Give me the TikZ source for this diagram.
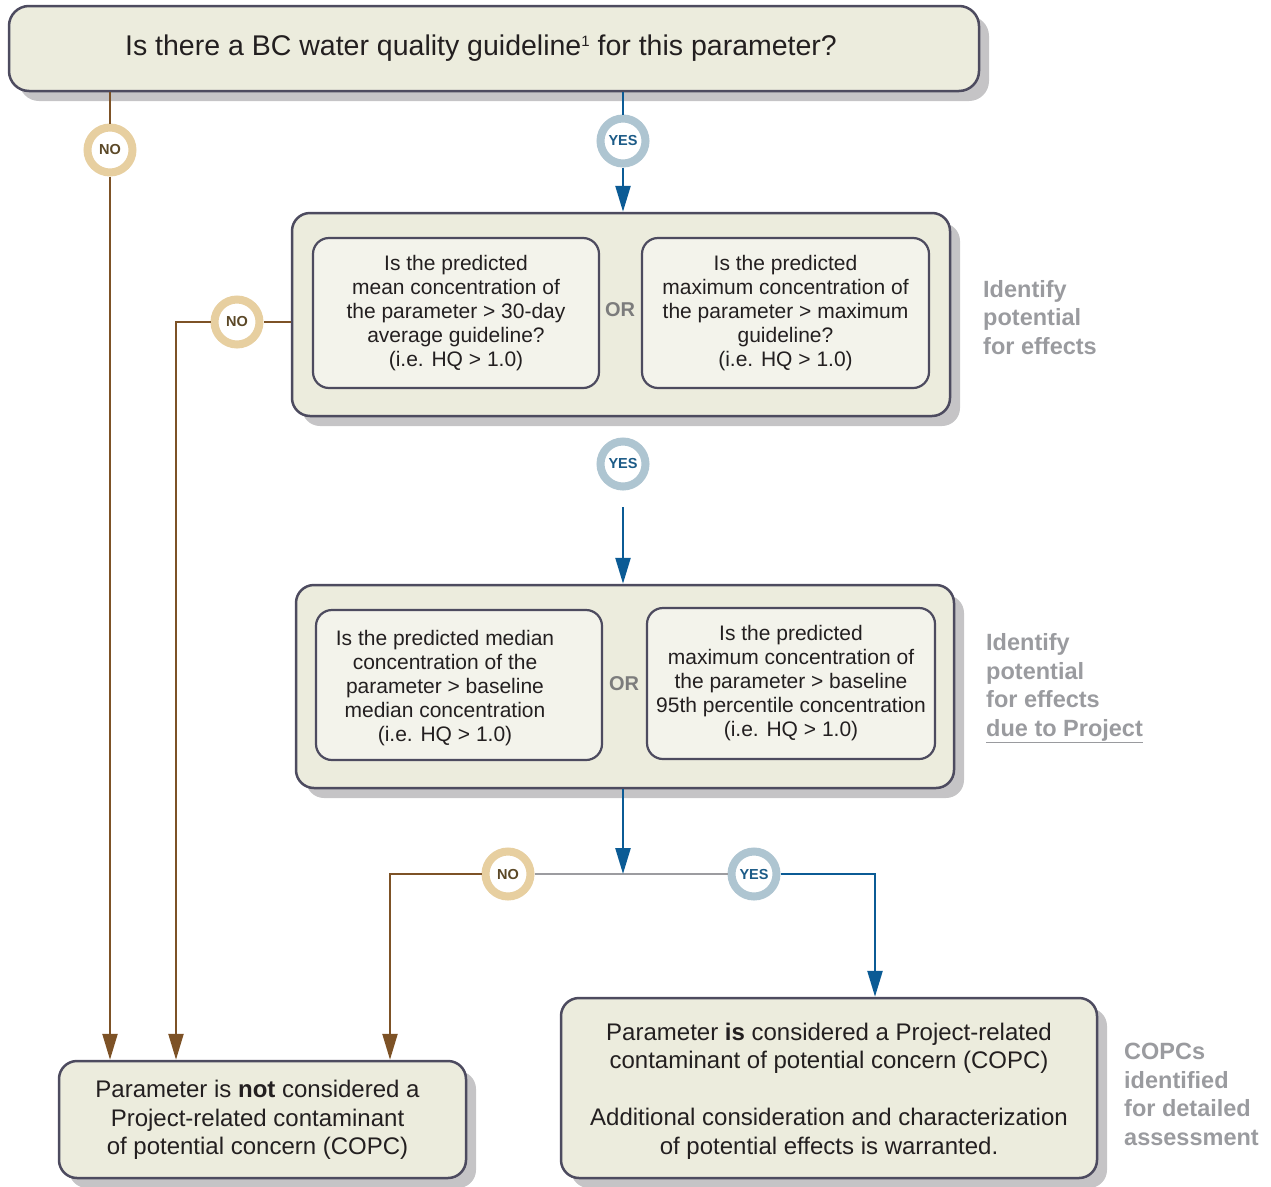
\documentclass[tikz,border=0pt]{standalone}
\usepackage{fontspec}
\setmainfont{Liberation Sans}
\usetikzlibrary{arrows.meta,shadows,calc}
\definecolor{boxfill}{HTML}{ECECDD}
\definecolor{innerfill}{HTML}{F3F3EB}
\definecolor{bordc}{HTML}{4D4B5F}
\definecolor{shadc}{HTML}{C5C4C6}
\definecolor{txtc}{HTML}{231F20}
\definecolor{notan}{HTML}{E7CFA0}
\definecolor{notext}{HTML}{5B4827}
\definecolor{yesring}{HTML}{AEC5D1}
\definecolor{yestext}{HTML}{1C5B87}
\definecolor{brownc}{HTML}{7D5226}
\definecolor{bluec}{HTML}{0B5B95}
\definecolor{greyc}{HTML}{9C9CA0}
\definecolor{labc}{HTML}{9A9B9F}
\definecolor{orc}{HTML}{7C7C7C}
\newcommand\myfs[2]{\fontsize{#1}{#2}\selectfont}
\begin{document}
\begin{tikzpicture}[x=1pt,y=-1pt,
  bigbox/.style={draw=bordc, line width=2.5pt, fill=boxfill, rounded corners=18pt, inner sep=0pt, align=center, text=txtc,
    general shadow={shadow xshift=10pt, shadow yshift=-10pt, fill=shadc, draw=none}},
  innerbox/.style={draw=bordc, line width=2.2pt, fill=innerfill, rounded corners=16pt, inner sep=0pt, align=center, text=txtc, font=\myfs{21}{24}},
  boxtext/.style={inner sep=0pt, align=center, text=txtc},
  nocirc/.style={circle, draw=notan, line width=8pt, fill=white, minimum size=45pt, inner sep=0pt, text=notext, font=\bfseries\myfs{14.5}{15}},
  yescirc/.style={circle, draw=yesring, line width=8pt, fill=white, minimum size=45pt, inner sep=0pt, text=yestext, font=\bfseries\myfs{14.5}{15}},
  brownln/.style={draw=brownc, line width=2.3pt},
  blueln/.style={draw=bluec, line width=2.5pt},
  greyln/.style={draw=greyc, line width=2.5pt},
  arrowend/.style={-{Triangle[length=26pt,width=15pt]}},
  sidelabel/.style={text=labc, font=\bfseries\myfs{23.5}{28.5}, align=left, anchor=west, inner sep=0pt},
  orlabel/.style={text=orc, font=\bfseries\myfs{20}{24}, inner sep=0pt}
]
\useasboundingbox (0,0) rectangle (1271,1186);

% main boxes
\node[bigbox, minimum width=970pt, minimum height=85pt, rounded corners=20pt, font=\myfs{28.5}{32}] (top) at (494,48.5)
  {Is there a BC water quality guideline\raisebox{9.5pt}{\myfs{15}{15}1} for this parameter?\hspace*{26pt}};

\node[bigbox, minimum width=658pt, minimum height=203pt] (box2) at (621,314.5) {};
\node[innerbox, minimum width=286pt, minimum height=150pt] (q2a) at (456,313)
  {Is the predicted\\mean concentration of\\the parameter > 30-day\\average guideline?\\(i.e. HQ > 1.0)};
\node[innerbox, minimum width=287pt, minimum height=150pt] (q2b) at (785.5,313)
  {Is the predicted\\maximum concentration of\\the parameter > maximum\\guideline?\\(i.e. HQ > 1.0)};
\node[orlabel] (or2) at (620,310) {OR};

\node[bigbox, minimum width=658pt, minimum height=203pt] (box3) at (625,686.5) {};
\node[innerbox, minimum width=286pt, minimum height=150pt] (q3a) at (459,685) {};
\node[boxtext, font=\myfs{21}{24}] (q3atext) at (445,688)
  {Is the predicted median\\concentration of the\\parameter > baseline\\median concentration\\(i.e. HQ > 1.0)};
\node[innerbox, minimum width=288pt, minimum height=151pt] (q3b) at (791,683.5)
  {Is the predicted\\maximum concentration of\\the parameter > baseline\\95th percentile concentration\\(i.e. HQ > 1.0)};
\node[orlabel] (or3) at (624,684) {OR};

\node[bigbox, minimum width=407pt, minimum height=117pt] (botL) at (262.5,1119.5) {};
\node[boxtext, font=\myfs{24}{28.5}] (botLtext) at (257.5,1120)
  {Parameter is \textbf{not} considered a\\Project-related contaminant\\of potential concern (COPC)};
\node[bigbox, minimum width=536pt, minimum height=180pt] (botR) at (829,1088) {};
\node[boxtext, font=\myfs{24}{28.5}] (botRtext) at (829,1091)
  {Parameter \textbf{is} considered a Project-related\\contaminant of potential concern (COPC)\\[28.5pt]Additional consideration and characterization\\of potential effects is warranted.};

% side labels
\node[sidelabel] (lab1) at (983,317.5) {Identify\\potential\\for effects};
\node[sidelabel] (lab2) at (986,688.5) {Identify\\potential\\for effects\\\underline{due to Project}};
\node[sidelabel] (lab3) at (1124,1094.5) {COPCs\\identified\\for detailed\\assessment};

% decision circles
\node[nocirc] (no1) at (110,150) {NO};
\node[yescirc] (yes1) at (623,141) {YES};
\node[nocirc] (no2) at (237,322) {NO};
\node[yescirc] (yes2) at (623,464) {YES};
\node[nocirc] (no3) at (508,874) {NO};
\node[yescirc] (yes3) at (754,874) {YES};

% helper coordinates
\coordinate (xa) at (176,0);
\coordinate (xb) at (390,0);
\coordinate (xc) at (875,0);
\coordinate (y2s) at (623,507);
\coordinate (jn) at (623,874);

% connectors
\draw[brownln] (top.south -| no1) -- (no1.north);
\draw[brownln, arrowend] (no1.south) -- (botL.north -| no1);
\draw[blueln] (top.south -| yes1) -- (yes1.north);
\draw[blueln, arrowend] (yes1.south) -- (box2.north -| yes1);
\draw[brownln] (box2.west |- no2) -- (no2.east);
\draw[brownln, arrowend] (no2.west) -| (botL.north -| xa);
\draw[blueln, arrowend] (y2s) -- (box3.north -| y2s);
\draw[greyln] (no3.east) -- (yes3.west);
\draw[blueln, arrowend] (box3.south -| jn) -- (jn);
\draw[brownln, arrowend] (no3.west) -| (botL.north -| xb);
\draw[blueln, arrowend] (yes3.east) -| (botR.north -| xc);
\end{tikzpicture}
\end{document}
